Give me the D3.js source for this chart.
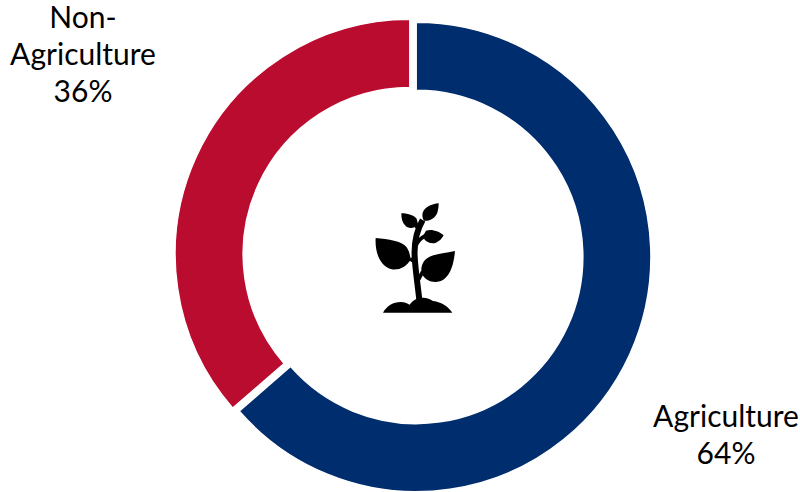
<!DOCTYPE html>
<html>
<head>
<meta charset="utf-8">
<script src="https://cdn.jsdelivr.net/npm/d3@7"></script>
<style>
  html, body { margin: 0; padding: 0; background: #fff; }
  svg { display: block; }
  text { font-family: Lato, "Open Sans", sans-serif; font-size: 30px; fill: #000; }
</style>
</head>
<body>
<div id="chart"></div>
<script>
const categories = ['Agriculture', 'Non-Agriculture'];
const shares = [63.6, 36.4];
const colors = ['#002d6d', '#ba0c2f'];
const labelLines = [['Agriculture', '64%'], ['Non-', 'Agriculture', '36%']];
const labelPos = [[726, 427], [83, 28]];

const width = 800, height = 492;
const cx = 413, cy = 255.5;
const explode = 3.5; // slices are pulled apart from the middle
const edge = 1.5;
const outer = 234 + edge / 2, inner = 167.4 - edge / 2;

const svg = d3.select('#chart').append('svg').attr('width', width).attr('height', height);

const pie = d3.pie().sort(null).value((d) => d)(shares);
const arc = d3.arc().innerRadius(inner).outerRadius(outer);
const color = d3.scaleOrdinal().domain(categories).range(colors);

svg.append('g')
  .attr('transform', `translate(${cx},${cy})`)
  .selectAll('path')
  .data(pie)
  .enter()
  .append('path')
  .attr('d', arc)
  .attr('transform', (d) => {
    const mid = (d.startAngle + d.endAngle) / 2;
    return `translate(${explode * Math.sin(mid)},${-explode * Math.cos(mid)})`;
  })
  .attr('fill', (d, i) => color(categories[i]))
  .attr('stroke', '#fff')
  .attr('stroke-width', edge);

// labels
const labels = svg.selectAll('text.label')
  .data(labelLines)
  .enter()
  .append('text')
  .attr('class', 'label')
  .attr('text-anchor', 'middle')
  .attr('transform', (d, i) => `translate(${labelPos[i][0]},${labelPos[i][1]})`);

labels.selectAll('tspan')
  .data((d) => d)
  .enter()
  .append('tspan')
  .attr('x', 0)
  .attr('y', (d, i) => i * 37)
  .text((d) => d);

// plant icon, traced at 3x from the picture
const icon = svg.append('g').attr('transform', 'translate(360,190) scale(0.3333)');
icon.append('path')
  .attr('fill', '#000')
  .attr('d', [
    // left leaf
    'M47,144 C85,148 125,152 140,172 C148,184 150,195 152,208 C140,232 115,242 95,238 C62,230 44,190 47,144 Z',
    // right leaf
    'M285,183 C250,190 212,192 195,210 C185,222 182,235 185,250 C196,276 230,284 252,268 C275,250 282,215 285,183 Z',
    // upper left leaf
    'M124,70 C140,70 160,74 170,86 L174,102 C165,116 145,118 135,106 C126,96 124,84 124,70 Z',
    // top leaf
    'M236,40 C215,42 195,50 188,68 C186,78 188,86 192,92 C210,94 226,84 232,68 C235,58 236,50 236,40 Z',
    // middle leaf
    'M251,136 C238,124 215,116 198,122 L189,138 C192,154 212,164 228,158 C238,154 246,146 251,136 Z',
    // ground
    'M69,368 C80,348 100,336 122,336 C133,336 142,340 149,344 C158,330 175,322 192,323 C205,324 212,328 219,333 C245,336 265,350 277,368 Z'
  ].join(' '));
icon.append('path')
  .attr('fill', 'none')
  .attr('stroke', '#000')
  .attr('stroke-width', 18)
  .attr('d', 'M178,330 C174,290 166,240 164,200 C162,160 168,125 188,90');
icon.append('path')
  .attr('fill', 'none')
  .attr('stroke', '#000')
  .attr('stroke-width', 11)
  .attr('d', 'M168,168 C172,155 180,145 195,138 M150,206 L168,218 M176,268 L188,245 M165,105 L178,118');
</script>
</body>
</html>
